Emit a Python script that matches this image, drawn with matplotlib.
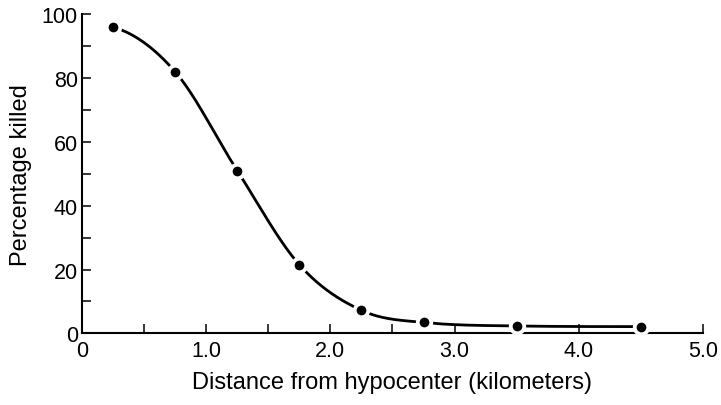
import numpy as np
import matplotlib
matplotlib.use("Agg")
import matplotlib.pyplot as plt
from matplotlib.ticker import MultipleLocator, FixedLocator

# Percentage of people killed versus distance from the hypocenter
distance_km = [0.25, 0.75, 1.25, 1.75, 2.25, 2.75, 3.5, 4.5]
percent_killed = [96, 82, 51, 21.5, 7.2, 3.4, 2.3, 2.1]

x_tick_values = [0, 1, 2, 3, 4, 5]
x_tick_labels = ["0", "1.0", "2.0", "3.0", "4.0", "5.0"]
y_tick_values = [0, 20, 40, 60, 80, 100]


def smooth_curve(x, y, xs):
    """Cubic Hermite curve with centred tangents, limited to stay monotone."""
    x = np.asarray(x, float)
    y = np.asarray(y, float)
    h = np.diff(x)
    d = np.diff(y) / h
    n = len(x)
    m = np.zeros(n)
    for i in range(1, n - 1):
        m[i] = (y[i + 1] - y[i - 1]) / (x[i + 1] - x[i - 1])
    m[0] = ((2 * h[0] + h[1]) * d[0] - h[0] * d[1]) / (h[0] + h[1])
    m[-1] = ((2 * h[-1] + h[-2]) * d[-1] - h[-1] * d[-2]) / (h[-1] + h[-2])
    if m[0] * d[0] <= 0:
        m[0] = 0.0
    if m[-1] * d[-1] <= 0:
        m[-1] = 0.0
    for k in range(n - 1):
        if d[k] == 0:
            m[k] = m[k + 1] = 0.0
            continue
        a, b = m[k] / d[k], m[k + 1] / d[k]
        r = a * a + b * b
        if r > 9:
            t = 3 / np.sqrt(r)
            m[k] = t * a * d[k]
            m[k + 1] = t * b * d[k]
    idx = np.clip(np.searchsorted(x, xs) - 1, 0, n - 2)
    t = (xs - x[idx]) / h[idx]
    h00 = 2 * t**3 - 3 * t**2 + 1
    h10 = t**3 - 2 * t**2 + t
    h01 = -2 * t**3 + 3 * t**2
    h11 = t**3 - t**2
    return (h00 * y[idx] + h10 * h[idx] * m[idx]
            + h01 * y[idx + 1] + h11 * h[idx] * m[idx + 1])


plt.rcParams["font.family"] = ["Liberation Sans", "DejaVu Sans"]

fig = plt.figure(figsize=(7.21, 4.06), dpi=100)
ax = fig.add_axes([0.1137, 0.1766, 0.8613, 0.7857])

xs = np.linspace(distance_km[0], distance_km[-1], 500)
ax.plot(xs, smooth_curve(distance_km, percent_killed, xs),
        color="black", lw=2.0, solid_capstyle="butt", zorder=2)
# white halo around each dot leaves a small gap in the curve
ax.plot(distance_km, percent_killed, "o", color="white", ms=12.5,
        mew=0, zorder=3)
ax.plot(distance_km, percent_killed, "o", color="black", ms=7.0,
        mew=0, zorder=4)

ax.set_xlim(0, 5)
ax.set_ylim(0, 100)
ax.spines["top"].set_visible(False)
ax.spines["right"].set_visible(False)
for s in ("left", "bottom"):
    ax.spines[s].set_linewidth(1.5)

ax.xaxis.set_major_locator(FixedLocator(x_tick_values))
ax.set_xticklabels(x_tick_labels)
ax.xaxis.set_minor_locator(MultipleLocator(0.5))
ax.yaxis.set_major_locator(FixedLocator(y_tick_values))
ax.yaxis.set_minor_locator(MultipleLocator(10))
ax.tick_params(which="both", direction="in", length=6.5, width=1.1,
               labelsize=15.5, colors="black")
ax.tick_params(axis="x", pad=5)
ax.tick_params(axis="y", pad=3)

ax.set_xlabel("Distance from hypocenter (kilometers)", fontsize=17, labelpad=7)
ax.set_ylabel("Percentage killed", fontsize=17, labelpad=7)

fig.savefig("out.png", dpi=100)
